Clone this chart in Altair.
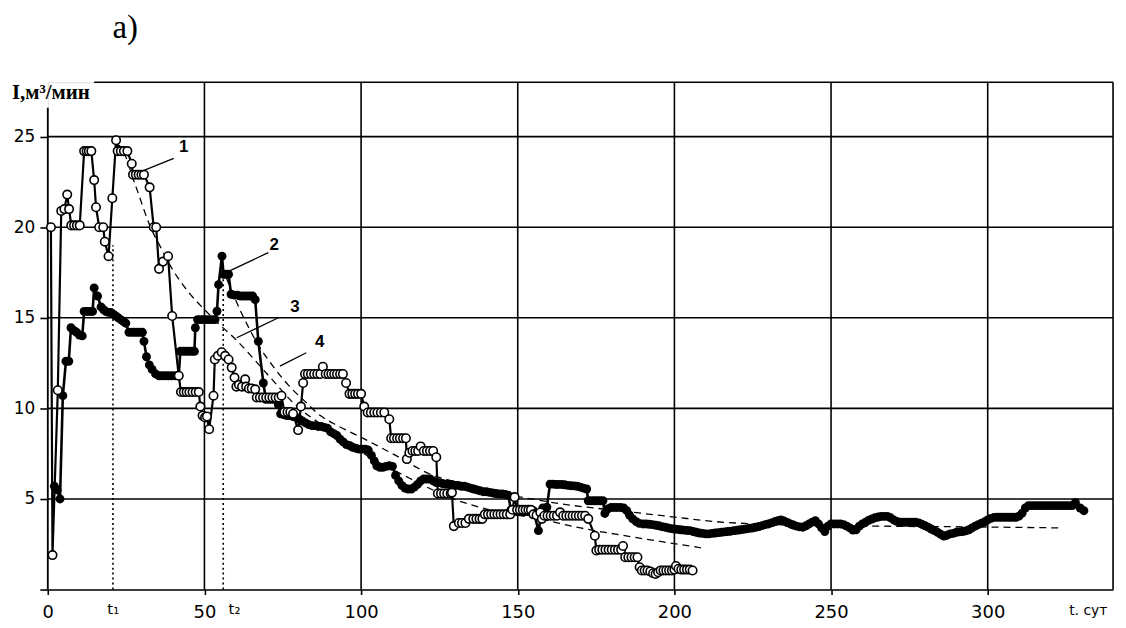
import altair as alt
import pandas as pd

W, H = 1071, 510
X_MAX, Y_MAX = 340, 28

X_TICKS = [0, 50, 100, 150, 200, 250, 300]
Y_TICKS = [0, 5, 10, 15, 20, 25]
GRID_X = [50, 100, 150, 200, 250, 300, 340]
GRID_Y = [5, 10, 15, 20, 25]

# Curve 1 (open circles): (day, I)
CURVE1 = [
    (1.0, 20.0), (1.5, 1.9), (3.2, 11.0), (4.3, 20.9), (5.3, 21.0), (6.2, 21.8), (6.8, 21.0),
    (7.5, 20.1), (8.4, 20.1), (9.3, 20.1), (10.2, 20.1), (11.6, 24.2), (12.4, 24.2), (13.1, 24.2),
    (13.9, 24.2), (14.8, 22.6), (15.4, 21.1), (16.4, 20.0), (17.7, 20.0), (18.2, 19.2), (19.4, 18.4),
    (20.6, 21.6), (21.8, 24.8), (22.3, 24.2), (23.3, 24.2), (24.3, 24.2), (25.4, 24.2), (26.8, 23.5),
    (27.2, 22.9), (28.1, 22.9), (29.0, 22.9), (29.9, 22.9), (30.7, 22.9), (32.5, 22.2), (33.8, 20.0),
    (34.6, 20.0), (35.5, 17.7), (36.8, 18.1), (38.4, 18.4), (39.7, 15.1), (41.8, 11.8), (42.5, 10.9),
    (43.4, 10.9), (44.3, 10.9), (45.2, 10.9), (46.2, 10.9), (47.2, 10.9), (48.2, 10.9), (48.7, 10.1),
    (49.4, 9.6), (50.2, 9.5), (50.8, 9.55), (51.5, 8.85), (52.9, 10.7), (53.3, 12.7), (54.3, 12.9),
    (55.5, 13.1), (56.6, 12.9), (57.7, 12.7), (58.7, 12.25), (59.6, 11.7), (60.2, 11.2), (61.0, 11.3),
    (62.0, 11.2), (63.0, 11.6), (63.3, 11.2), (64.2, 11.1), (65.1, 11.1), (66.2, 11.05), (66.7, 10.6),
    (67.7, 10.6), (68.7, 10.6), (69.7, 10.6), (70.7, 10.6), (71.7, 10.6), (72.7, 10.6), (73.7, 10.6),
    (74.6, 10.7), (75.5, 9.8), (76.5, 9.8), (77.4, 9.8), (78.3, 9.7), (79.9, 8.8), (80.8, 10.1),
    (81.5, 11.4), (82.1, 11.9), (83.0, 11.9), (84.0, 11.9), (85.0, 11.9), (86.0, 11.9), (87.0, 11.9),
    (87.8, 12.3), (88.7, 11.9), (89.6, 11.9), (90.5, 11.9), (91.4, 11.9), (92.3, 11.9), (93.3, 11.9),
    (94.2, 11.9), (95.2, 11.4), (96.3, 10.8), (97.2, 10.8), (98.1, 10.8), (99.0, 10.8), (100.0, 10.8),
    (101.0, 10.1), (102.1, 9.77), (103.1, 9.77), (104.2, 9.77), (105.2, 9.77), (106.3, 9.77),
    (107.4, 9.77), (109.0, 9.4), (109.6, 8.35), (110.5, 8.35), (111.5, 8.35), (112.4, 8.35),
    (113.4, 8.35), (114.3, 8.35), (114.6, 7.2), (115.4, 7.55), (116.4, 7.65), (117.3, 7.65),
    (118.2, 7.65), (119.0, 7.9), (120.0, 7.65), (121.0, 7.65), (122.0, 7.65), (123.0, 7.65),
    (124.0, 7.3), (124.5, 5.3), (125.5, 5.3), (126.5, 5.3), (127.5, 5.3), (128.6, 5.3), (129.0, 5.35),
    (129.6, 3.5), (131.2, 3.67), (132.2, 3.67), (133.3, 3.67), (134.4, 3.9), (135.8, 3.9), (136.8, 3.9),
    (137.8, 3.9), (138.7, 3.9), (139.5, 4.15), (140.5, 4.15), (141.5, 4.15), (142.5, 4.15),
    (143.5, 4.15), (144.5, 4.15), (145.5, 4.15), (146.5, 4.15), (147.6, 4.15), (148.3, 4.4),
    (149.0, 5.1), (149.8, 4.4), (150.7, 4.4), (151.6, 4.4), (152.5, 4.4), (153.4, 4.4), (154.2, 4.4),
    (155.0, 4.15), (156.0, 4.1), (157.2, 4.25), (157.7, 3.9), (158.5, 4.07), (159.5, 4.07),
    (160.5, 4.07), (161.5, 4.07), (162.5, 4.07), (163.5, 4.26), (164.5, 4.07), (165.5, 4.07),
    (166.5, 4.07), (167.5, 4.07), (168.5, 4.07), (169.5, 4.07), (170.5, 4.07), (171.5, 4.07),
    (172.5, 3.9), (174.6, 2.97), (175.1, 2.15), (176.0, 2.2), (177.0, 2.2), (178.0, 2.2), (179.0, 2.2),
    (180.0, 2.2), (181.0, 2.2), (182.0, 2.2), (183.0, 2.2), (183.6, 2.4), (184.3, 1.78), (185.3, 1.78),
    (186.3, 1.78), (187.3, 1.78), (188.2, 1.78), (188.9, 1.23), (189.6, 1.05), (190.5, 1.05),
    (191.4, 1.05), (192.3, 1.0), (193.2, 0.9), (194.0, 0.86), (194.8, 0.95), (195.6, 1.05),
    (196.5, 1.05), (197.4, 1.05), (198.3, 1.05), (199.2, 1.05), (200.0, 1.1), (200.5, 1.3),
    (201.3, 1.15), (202.2, 1.1), (203.1, 1.1), (204.0, 1.1), (204.9, 1.1), (205.8, 1.05),
]

# Curve 2 (filled circles), early part: (day, I)
CURVE2_EARLY = [
    (2.1, 5.7), (3.0, 5.5), (3.9, 5.0), (4.8, 10.7), (5.8, 12.6), (6.7, 12.6), (7.4, 14.45),
    (8.3, 14.3), (9.2, 14.2), (10.1, 14.05), (11.0, 14.0), (11.6, 15.35), (12.5, 15.35), (13.4, 15.35),
    (14.3, 15.35), (14.8, 16.65), (15.9, 16.2), (17.0, 15.6), (17.8, 15.45), (18.5, 15.35), (19.3, 15.3),
    (20.1, 15.3), (20.9, 15.2), (21.7, 15.1), (22.5, 15.0), (23.3, 14.9), (24.1, 14.8), (24.9, 14.7),
    (25.9, 14.2), (26.8, 14.2), (27.7, 14.2), (28.5, 14.2), (29.4, 14.2), (30.2, 14.2), (30.7, 13.7),
    (31.5, 12.85), (32.4, 12.4), (33.3, 12.15), (34.4, 11.9), (35.5, 11.8), (36.5, 11.8), (37.5, 11.8),
    (38.5, 11.8), (39.6, 11.8), (40.8, 11.8), (41.8, 11.8), (42.3, 13.15), (43.3, 13.15), (44.2, 13.15),
    (45.1, 13.15), (46.0, 13.15), (46.8, 13.15), (47.1, 14.45), (47.8, 14.9), (48.7, 14.9), (49.6, 14.9),
    (50.5, 14.9), (51.5, 14.9), (52.4, 14.9), (53.4, 14.9), (54.0, 15.36), (54.5, 16.83), (55.6, 18.4),
    (56.1, 17.4), (57.0, 17.4), (57.7, 17.4), (58.5, 16.3), (59.5, 16.25), (60.5, 16.25), (61.5, 16.2),
    (62.5, 16.2), (63.5, 16.2), (64.5, 16.2), (65.4, 16.2), (66.2, 16.0), (67.2, 13.7), (68.8, 11.4),
    (69.6, 10.5), (70.6, 10.5), (71.6, 10.5), (72.6, 10.5), (73.6, 10.2), (74.3, 9.7), (75.3, 9.65),
    (76.3, 9.6), (77.3, 9.6), (78.3, 9.55), (79.3, 9.5), (80.3, 9.4), (81.3, 9.3), (82.3, 9.2),
    (83.3, 9.1), (84.3, 9.05), (85.3, 9.05), (86.3, 9.0), (87.3, 9.0), (88.3, 8.95), (89.3, 8.9),
    (90.3, 8.7), (91.3, 8.6), (92.3, 8.5), (93.3, 8.3), (94.3, 8.15), (95.3, 8.0), (96.3, 7.95),
    (97.3, 7.85), (98.3, 7.8), (99.3, 7.75), (100.3, 7.75), (101.3, 7.75), (102.3, 7.7), (103.3, 7.4),
    (104.2, 7.1), (105.0, 6.83), (106.0, 6.75), (107.0, 6.75), (108.0, 6.8), (109.0, 6.83), (110.0, 6.8),
    (111.0, 6.3), (112.0, 6.0), (113.0, 5.75), (114.0, 5.6), (115.0, 5.55), (116.0, 5.55), (117.0, 5.65),
    (118.0, 5.8), (119.0, 6.0), (120.0, 6.1), (121.0, 6.1), (122.0, 6.1), (123.0, 6.0), (124.0, 5.9),
    (125.0, 5.9), (126.0, 5.85), (127.0, 5.82), (128.0, 5.8), (129.0, 5.8), (130.0, 5.75), (131.0, 5.75),
    (132.0, 5.7), (133.0, 5.7), (134.0, 5.65), (135.0, 5.6), (136.0, 5.55), (137.0, 5.5), (138.0, 5.45),
    (139.0, 5.4), (140.0, 5.4), (141.0, 5.36), (142.0, 5.33), (143.0, 5.3), (144.0, 5.28), (145.0, 5.27),
    (146.0, 5.25), (147.0, 5.2), (147.8, 4.4), (148.7, 4.35), (149.6, 4.3), (150.5, 4.3), (151.4, 4.3),
    (152.3, 4.3), (153.2, 4.3), (154.1, 4.3), (155.0, 4.35), (156.6, 3.25), (158.0, 4.5), (159.3, 4.55),
    (160.3, 5.82), (161.2, 5.82), (162.1, 5.8), (163.0, 5.8), (164.0, 5.8), (165.0, 5.78), (166.0, 5.75),
    (167.0, 5.73), (168.0, 5.72), (169.0, 5.7), (170.0, 5.65), (171.0, 5.6), (172.0, 5.55), (172.5, 4.9),
    (173.5, 4.9), (174.5, 4.9), (175.4, 4.9), (176.3, 4.9), (177.2, 4.9), (177.8, 4.2), (178.8, 4.45),
    (179.8, 4.53), (180.8, 4.53), (181.8, 4.53), (182.8, 4.53), (183.8, 4.5), (184.8, 4.35),
    (185.7, 4.1), (186.7, 3.9), (187.8, 3.75), (188.8, 3.65),
]

# Curve 2, daily readings from day 190 to day 328
CURVE2_LATE_START = 190
CURVE2_LATE = [
    3.62, 3.62, 3.6, 3.58, 3.55, 3.52, 3.47, 3.44, 3.4, 3.36,      # 190-199
    3.34, 3.32, 3.3, 3.28, 3.26, 3.25, 3.2, 3.16, 3.12, 3.1,       # 200-209
    3.07, 3.07, 3.1, 3.12, 3.14, 3.16, 3.18, 3.2, 3.22, 3.25,      # 210-219
    3.27, 3.3, 3.32, 3.35, 3.38, 3.4, 3.44, 3.48, 3.53, 3.58,      # 220-229
    3.62, 3.68, 3.74, 3.8, 3.84, 3.78, 3.7, 3.62, 3.56, 3.5,       # 230-239
    3.46, 3.44, 3.52, 3.62, 3.72, 3.8, 3.62, 3.4, 3.2, 3.5,        # 240-249
    3.62, 3.62, 3.62, 3.62, 3.58, 3.5, 3.4, 3.28, 3.3, 3.5,        # 250-259
    3.62, 3.72, 3.82, 3.89, 3.96, 4.0, 4.04, 4.04, 4.04, 3.96,     # 260-269
    3.84, 3.76, 3.72, 3.71, 3.71, 3.71, 3.71, 3.71, 3.68, 3.6,     # 270-279
    3.52, 3.44, 3.34, 3.25, 3.16, 3.05, 2.95, 3.0, 3.07, 3.1,      # 280-289
    3.16, 3.18, 3.2, 3.24, 3.3, 3.4, 3.5, 3.58, 3.66, 3.74,        # 290-299
    3.84, 3.93, 3.98, 3.99, 3.99, 3.99, 3.99, 3.99, 3.99, 3.99,    # 300-309
    4.05, 4.22, 4.5, 4.63, 4.63, 4.63, 4.63, 4.63, 4.63, 4.63,     # 310-319
    4.63, 4.63, 4.63, 4.63, 4.63, 4.63, 4.63, 4.63, 4.81,          # 320-328
]
CURVE2_TAIL = [(329.5, 4.5), (330.7, 4.35)]

# Dashed approximations 3 and 4
FIT3 = [
    (22.0, 24.6), (23.4, 24.4), (28.0, 22.3), (32.8, 20.0), (36.0, 18.9), (39.7, 17.7), (45.0, 16.4),
    (50.3, 15.4), (55.0, 14.6), (60.0, 13.8), (70.0, 11.9), (79.0, 10.2), (90.0, 8.8), (100.0, 7.6),
    (113.7, 6.3), (129.5, 5.0), (141.0, 4.4), (157.0, 3.9), (170.0, 3.4), (185.0, 2.95), (208.7, 2.3),
]
FIT4 = [
    (57.0, 17.2), (62.0, 15.2), (67.2, 13.5), (72.0, 12.3), (76.7, 11.3), (82.0, 10.4), (87.0, 9.6),
    (93.0, 9.0), (100.0, 8.4), (110.0, 7.5), (123.0, 6.3), (131.0, 5.9), (141.0, 5.4), (151.0, 5.1),
    (165.0, 4.7), (185.0, 4.3), (200.0, 4.0), (213.0, 3.75), (230.0, 3.6), (264.5, 3.5), (300.0, 3.45),
    (324.0, 3.4),
]

# t1 / t2 markers
T_NAMES = ["t\u2081", "t\u2082"]
T_X = [20.8, 56.0]
T_TOP = [19.0, 17.2]
T_LABEL_X = [20.9, 59.6]

# numbered labels and their leader lines
LABELS = ["1", "2", "3", "4"]
LABEL_X = [43.4, 72.3, 78.9, 86.8]
LABEL_Y = [24.45, 19.0, 15.6, 13.66]
LEAD_X1 = [40.2, 70.4, 73.6, 82.5]
LEAD_Y1 = [23.8, 18.6, 15.0, 13.07]
LEAD_X2 = [29.5, 58.2, 60.3, 74.1]
LEAD_Y2 = [23.05, 17.6, 13.9, 12.33]

Y_TITLE = "I,м³/мин"
X_UNIT = "t. сут"
PANEL = "a)"

# ---------------------------------------------------------------
xs = alt.Scale(domain=[0, X_MAX], nice=False, zero=False)
ys = alt.Scale(domain=[0, Y_MAX], nice=False, zero=False)

XAX = alt.Axis(values=X_TICKS, title=None, grid=False, domain=True, domainColor="black",
               domainWidth=1.6, ticks=True, tickColor="black", tickSize=5, tickWidth=1.6,
               labelFont="DejaVu Sans", labelFontSize=18, labelColor="black", labelPadding=9,
               labelFlush=False)
YAX = alt.Axis(values=Y_TICKS, title=None, grid=False, domain=False, ticks=True,
               tickColor="black", tickSize=8, tickWidth=1.6, labelFont="DejaVu Sans",
               labelFontSize=17, labelColor="black", labelPadding=5,
               labelExpr="datum.value == 0 ? '' : datum.label")


def X(f):
    return alt.X(f, type="quantitative", scale=xs, axis=XAX)


def Y(f):
    return alt.Y(f, type="quantitative", scale=ys, axis=YAX)


def pts(pairs):
    return pd.DataFrame({"x": [p[0] for p in pairs], "y": [p[1] for p in pairs],
                         "i": list(range(len(pairs)))})


c1 = pts(CURVE1)
c2_pairs = CURVE2_EARLY + [(CURVE2_LATE_START + k, v) for k, v in enumerate(CURVE2_LATE)] + CURVE2_TAIL
c2 = pts(c2_pairs)
f3 = pts(FIT3)
f4 = pts(FIT4)

vgrid = alt.Chart(pd.DataFrame({"gx": GRID_X})).mark_rule(color="black", strokeWidth=1.6).encode(
    x=X("gx"))
hgrid = alt.Chart(pd.DataFrame({"gy": GRID_Y, "a": [0] * len(GRID_Y), "b": [X_MAX] * len(GRID_Y)})
                  ).mark_rule(color="black", strokeWidth=1.6).encode(
    y=Y("gy"), x=X("a"), x2="b")
top_border = alt.Chart(pd.DataFrame({"a": [14.8], "b": [X_MAX], "yy": [Y_MAX]})).mark_rule(
    color="black", strokeWidth=1.6).encode(x=X("a"), x2="b", y=Y("yy"))
left_axis = alt.Chart(pd.DataFrame({"xx": [0], "a": [0], "b": [26.6]})).mark_rule(
    color="black", strokeWidth=1.8).encode(x=X("xx"), y=Y("a"), y2="b")

tlines = alt.Chart(pd.DataFrame({"tx": T_X, "a": [0, 0], "b": T_TOP})).mark_rule(
    color="black", strokeWidth=1.6, strokeDash=[2, 3]).encode(x=X("tx"), y=Y("a"), y2="b")

dash3 = alt.Chart(f3).mark_line(color="black", strokeWidth=1.3, strokeDash=[7, 5],
                                interpolate="monotone").encode(x=X("x"), y=Y("y"), order="i:Q")
dash4 = alt.Chart(f4).mark_line(color="black", strokeWidth=1.3, strokeDash=[7, 5],
                                interpolate="monotone").encode(x=X("x"), y=Y("y"), order="i:Q")

line2 = alt.Chart(c2).mark_line(color="black", strokeWidth=2.6).encode(
    x=X("x"), y=Y("y"), order="i:Q")
dots2 = alt.Chart(c2).mark_circle(color="black", size=80, opacity=1).encode(x=X("x"), y=Y("y"))

line1 = alt.Chart(c1).mark_line(color="black", strokeWidth=2.2).encode(
    x=X("x"), y=Y("y"), order="i:Q")
dots1 = alt.Chart(c1).mark_point(shape="circle", filled=True, fill="white", stroke="black",
                                 strokeWidth=1.6, size=72, opacity=1).encode(x=X("x"), y=Y("y"))

leaders = alt.Chart(pd.DataFrame({"x1": LEAD_X1, "y1": LEAD_Y1, "x2": LEAD_X2, "y2": LEAD_Y2})
                    ).mark_rule(color="black", strokeWidth=1.3).encode(
    x=X("x1"), y=Y("y1"), x2="x2", y2="y2")
nums = alt.Chart(pd.DataFrame({"t": LABELS, "x": LABEL_X, "y": LABEL_Y})).mark_text(
    font="Liberation Sans", fontSize=17, fontWeight="bold", color="black").encode(
    x=X("x"), y=Y("y"), text="t:N")

tlabels = alt.Chart(pd.DataFrame({"t": T_NAMES, "x": T_LABEL_X})).mark_text(
    font="DejaVu Sans", fontSize=15, color="black", baseline="middle").encode(
    x=X("x"), y=alt.value(H + 20), text="t:N")

unit = alt.Chart(pd.DataFrame({"t": [X_UNIT], "x": [326.0]})).mark_text(
    font="DejaVu Sans", fontSize=14, color="black", align="left", baseline="middle").encode(
    x=X("x"), y=alt.value(H + 22), text="t:N")

ytitle = alt.Chart(pd.DataFrame({"t": [Y_TITLE]})).mark_text(
    font="Liberation Serif", fontSize=21, fontWeight="bold", color="black", align="left",
    baseline="alphabetic").encode(x=alt.value(-36), y=alt.value(17), text="t:N")

panel = alt.Chart(pd.DataFrame({"t": [PANEL]})).mark_text(
    font="Liberation Serif", fontSize=33, color="black", align="left",
    baseline="middle").encode(x=alt.value(65), y=alt.value(-55), text="t:N")

chart = alt.layer(
    vgrid, hgrid, top_border, left_axis, tlines, dash3, dash4,
    line2, dots2, line1, dots1, leaders, nums, tlabels, unit, ytitle, panel,
).properties(
    width=W, height=H,
    autosize=alt.AutoSizeParams(type="none"),
    padding={"left": 40, "top": 73, "right": 5, "bottom": 35},
).configure_view(stroke=None).configure(background="white")

chart.save("out.html", embed_options={"renderer": "svg", "actions": False})
